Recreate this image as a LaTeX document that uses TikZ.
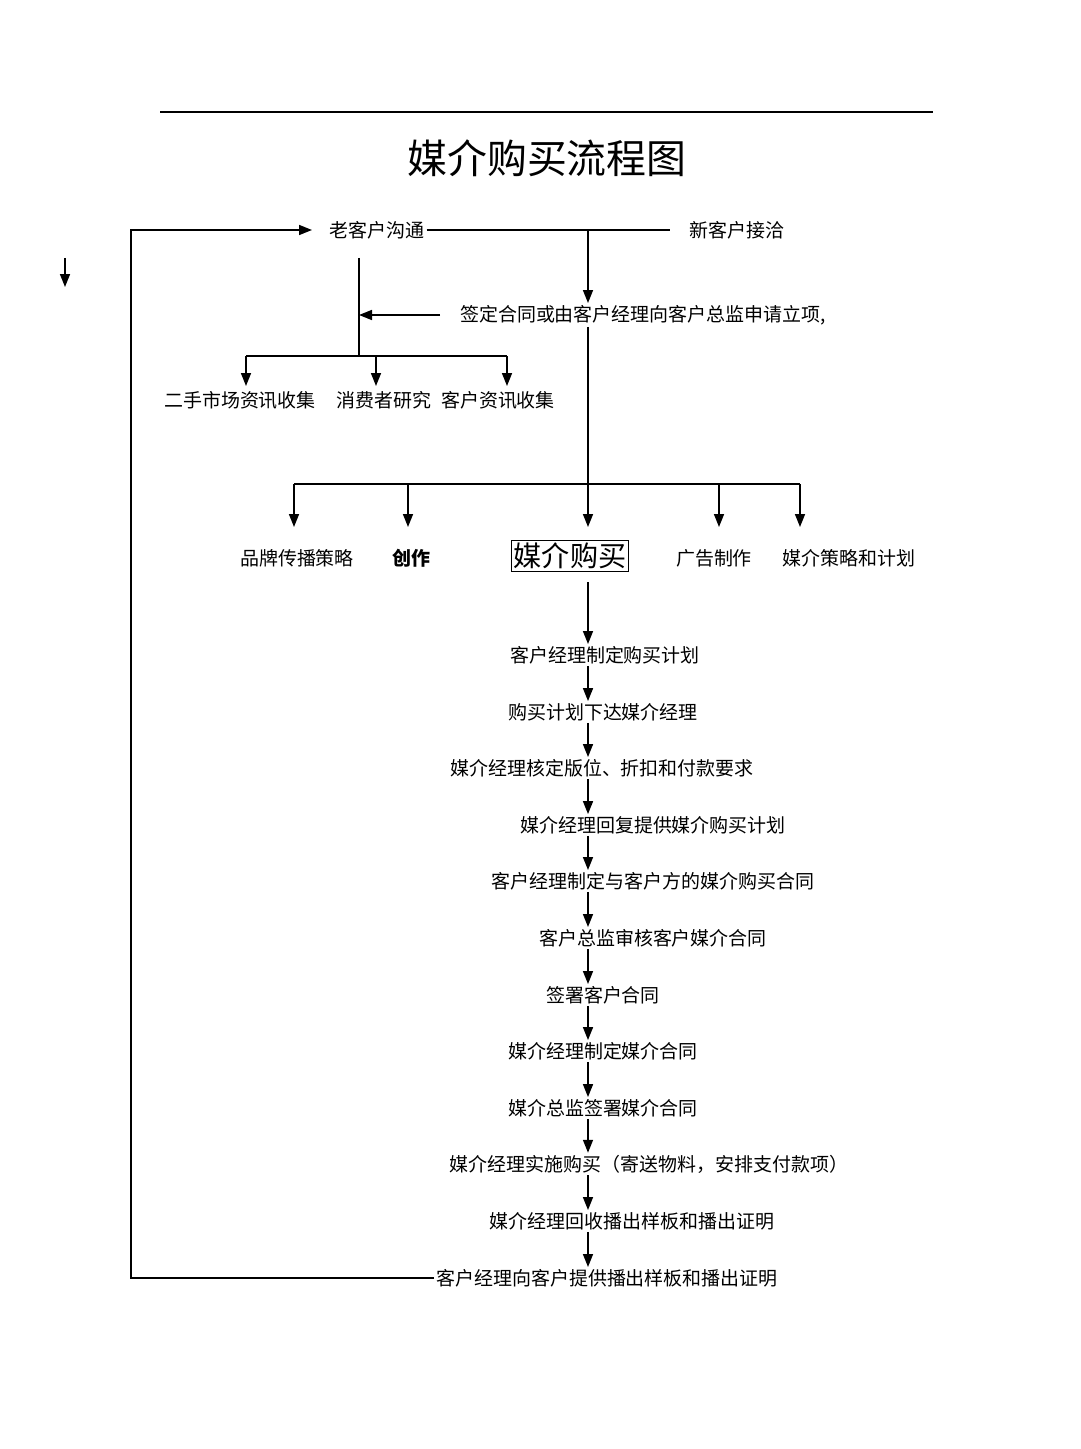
\documentclass[tikz,border=0pt]{standalone}
\usepackage{fontspec}
\setmainfont{Noto Sans CJK SC}
\usetikzlibrary{arrows.meta}

\tikzset{
	lbl/.style={inner sep=1pt, font=\fontsize{10.8}{13}\selectfont},
	link/.style={line width=0.9pt},
	flow/.style={line width=0.9pt, -{Triangle[length=2.6mm,width=2mm]}},
}

\begin{document}
\begin{tikzpicture}[x=0.02cm, y=-0.02cm]
	\useasboundingbox (0,0) rectangle (1080,1449);
	
	\coordinate(RULEL) at (160,112);
	\coordinate(RULER) at (933,112);
	\draw[line width=0.8pt] (RULEL) -- (RULER);
	\node[font=\fontsize{22.7}{26}\selectfont](TITLE) at (547,158){媒介购买流程图};
	
	\coordinate(S1) at (65,258);
	\coordinate(S2) at (65,287);
	\draw[flow] (S1) -- (S2);
	
	\node[lbl](OLD) at (377,230){老客户沟通};
	\node[lbl](NEW) at (737,230){新客户接洽};
	\node[lbl](SIGN) at (643,315){签定合同或由客户经理向客户总监申请立项,};
	
	\coordinate(J1) at (588,230);
	\coordinate(NEWEND) at (670,230);
	\coordinate(OLDFOOT) at (359,258);
	\coordinate(J2) at (359,315);
	\coordinate(J3) at (359,356);
	\coordinate(SIGNSTART) at (440,315);
	
	\draw[link] (OLD.east) -- (NEWEND);
	\draw[flow] (J1) -- (J1 |- SIGN.north);
	\draw[flow] (SIGNSTART) -- (J2);
	\draw[link] (OLDFOOT) -- (J3);
	
	\node[lbl](INFO1) at (240,400){二手市场资讯收集};
	\node[lbl](INFO2) at (384,400){消费者研究};
	\node[lbl](INFO3) at (498,400){客户资讯收集};
	
	\coordinate(H1) at (246,356);
	\coordinate(H2) at (376,356);
	\coordinate(H3) at (507,356);
	\coordinate(INFOTIP) at (0,386);
	
	\draw[link] (H1) -- (H3);
	\draw[flow] (H1) -- (H1 |- INFOTIP);
	\draw[flow] (H2) -- (H2 |- INFOTIP);
	\draw[flow] (H3) -- (H3 |- INFOTIP);
	
	\node[lbl](BRAND) at (297,558){品牌传播策略};
	\node[lbl, font=\fontsize{10.8}{13}\selectfont\bfseries](CREATE) at (411,558){创作};
	\node[draw, line width=0.6pt, inner sep=1.5pt, font=\fontsize{16}{18}\selectfont](BUY) at (570,556){媒介购买};
	\node[lbl](ADMAKE) at (714,558){广告制作};
	\node[lbl](PLAN) at (849,558){媒介策略和计划};
	
	\coordinate(R1) at (294,484);
	\coordinate(R2) at (408,484);
	\coordinate(R3) at (588,484);
	\coordinate(R4) at (719,484);
	\coordinate(R5) at (800,484);
	\coordinate(ROWTIP) at (0,527);
	
	\draw[link] (J1 |- SIGN.south) -- (R3);
	\draw[link] (R1) -- (R5);
	\draw[flow] (R1) -- (R1 |- ROWTIP);
	\draw[flow] (R2) -- (R2 |- ROWTIP);
	\draw[flow] (R3) -- (R3 |- ROWTIP);
	\draw[flow] (R4) -- (R4 |- ROWTIP);
	\draw[flow] (R5) -- (R5 |- ROWTIP);
	
	\node[lbl](PROC1) at (605,655){客户经理制定购买计划};
	\node[lbl](PROC2) at (603,712){购买计划下达媒介经理};
	\node[lbl](PROC3) at (602,768){媒介经理核定版位、折扣和付款要求};
	\node[lbl](PROC4) at (653,825){媒介经理回复提供媒介购买计划};
	\node[lbl](PROC5) at (653,881){客户经理制定与客户方的媒介购买合同};
	\node[lbl](PROC6) at (653,938){客户总监审核客户媒介合同};
	\node[lbl](PROC7) at (603,995){签署客户合同};
	\node[lbl](PROC8) at (603,1051){媒介经理制定媒介合同};
	\node[lbl](PROC9) at (603,1108){媒介总监签署媒介合同};
	\node[lbl](PROC10) at (649,1164){媒介经理实施购买（寄送物料，安排支付款项）};
	\node[lbl](PROC11) at (632,1221){媒介经理回收播出样板和播出证明};
	\node[lbl](PROC12) at (607,1278){客户经理向客户提供播出样板和播出证明};
	
	\draw[flow, shorten <=0.2cm] (J1 |- BUY.south) -- (J1 |- PROC1.north);
	\draw[flow] (J1 |- PROC1.south) -- (J1 |- PROC2.north);
	\draw[flow] (J1 |- PROC2.south) -- (J1 |- PROC3.north);
	\draw[flow] (J1 |- PROC3.south) -- (J1 |- PROC4.north);
	\draw[flow] (J1 |- PROC4.south) -- (J1 |- PROC5.north);
	\draw[flow] (J1 |- PROC5.south) -- (J1 |- PROC6.north);
	\draw[flow] (J1 |- PROC6.south) -- (J1 |- PROC7.north);
	\draw[flow] (J1 |- PROC7.south) -- (J1 |- PROC8.north);
	\draw[flow] (J1 |- PROC8.south) -- (J1 |- PROC9.north);
	\draw[flow] (J1 |- PROC9.south) -- (J1 |- PROC10.north);
	\draw[flow] (J1 |- PROC10.south) -- (J1 |- PROC11.north);
	\draw[flow] (J1 |- PROC11.south) -- (J1 |- PROC12.north);
	
	\coordinate(LOOPTOP) at (131,230);
	\coordinate(LOOPTIP) at (312,230);
	\draw[flow] (PROC12.west) -| (LOOPTOP) -- (LOOPTIP);
\end{tikzpicture}
\end{document}
